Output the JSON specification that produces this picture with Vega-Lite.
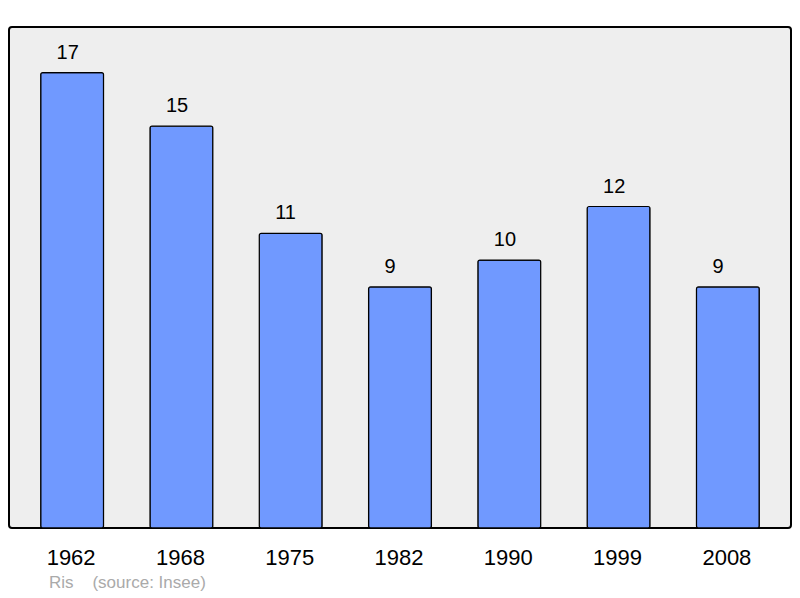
{
  "$schema": "https://vega.github.io/schema/vega-lite/v6.json",
  "width": 782,
  "height": 501,
  "autosize": {"type": "none"},
  "padding": {"left": 9, "top": 27, "right": 9, "bottom": 70},
  "background": "#ffffff",
  "config": {
    "font": "Liberation Sans",
    "view": {"stroke": "#000000", "strokeWidth": 2, "fill": "#eeeeee", "cornerRadius": 3}
  },
  "title": {
    "text": "Ris\u00a0\u00a0\u00a0\u00a0(source: Insee)",
    "orient": "bottom",
    "anchor": "start",
    "dx": 40,
    "offset": 7,
    "color": "#aaaaaa",
    "fontSize": 17,
    "fontWeight": "normal",
    "font": "Liberation Sans"
  },
  "data": {
    "values": [
      {"year": "1962", "pop": 17},
      {"year": "1968", "pop": 15},
      {"year": "1975", "pop": 11},
      {"year": "1982", "pop": 9},
      {"year": "1990", "pop": 10},
      {"year": "1999", "pop": 12},
      {"year": "2008", "pop": 9}
    ]
  },
  "encoding": {
    "x": {
      "field": "year",
      "type": "ordinal",
      "sort": null,
      "scale": {"paddingInner": 0.425, "paddingOuter": 0.29},
      "axis": {
        "title": null,
        "labelAngle": 0,
        "labelFontSize": 22,
        "labelColor": "#000000",
        "labelFont": "Liberation Sans",
        "labelPadding": 19,
        "labelOffset": -1,
        "ticks": false,
        "domain": false
      }
    },
    "y": {
      "field": "pop",
      "type": "quantitative",
      "scale": {"domain": [0, 18.7], "nice": false},
      "axis": null
    }
  },
  "layer": [
    {
      "mark": {"type": "bar", "color": "#7099ff", "stroke": "#000000", "strokeWidth": 1.2, "cornerRadius": 2}
    },
    {
      "mark": {"type": "text", "align": "left", "baseline": "alphabetic", "dx": -15.5, "dy": -14, "fontSize": 20, "color": "#000000", "font": "Liberation Sans"},
      "encoding": {"text": {"field": "pop", "type": "quantitative"}}
    }
  ]
}
